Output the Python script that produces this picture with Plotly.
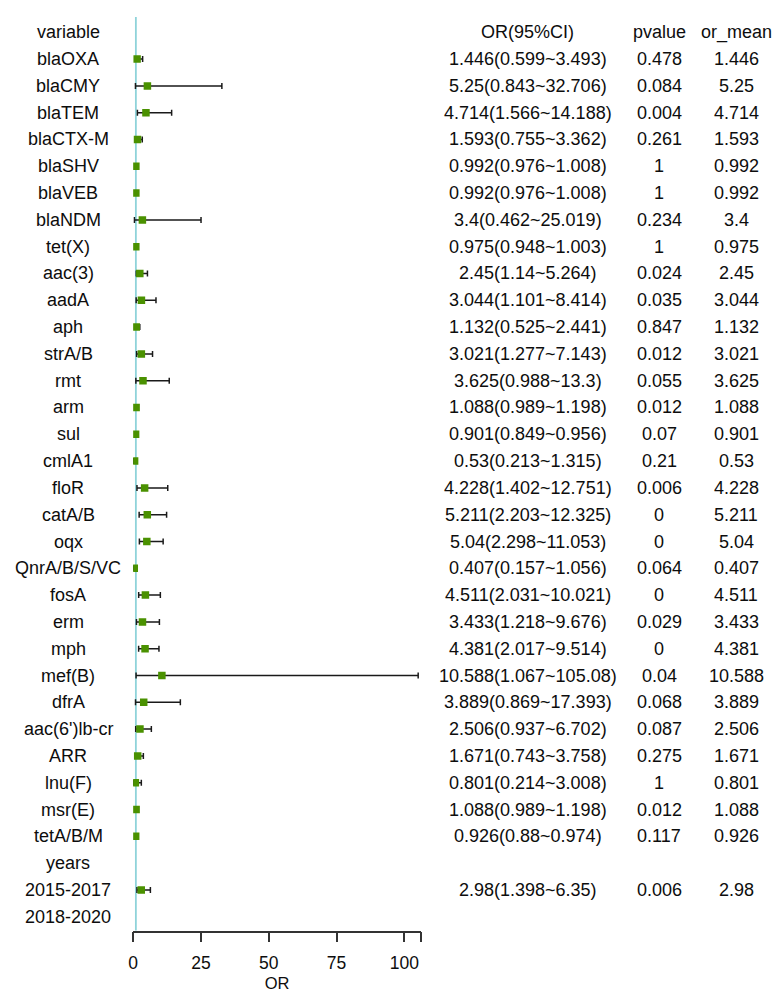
import plotly.graph_objects as go

# ---------------- data ----------------
row_labels = ["variable", "blaOXA", "blaCMY", "blaTEM", "blaCTX-M", "blaSHV", "blaVEB", "blaNDM",
              "tet(X)", "aac(3)", "aadA", "aph", "strA/B", "rmt", "arm", "sul", "cmlA1", "floR",
              "catA/B", "oqx", "QnrA/B/S/VC", "fosA", "erm", "mph", "mef(B)", "dfrA",
              "aac(6')lb-cr", "ARR", "lnu(F)", "msr(E)", "tetA/B/M", "years", "2015-2017", "2018-2020"]

or_mean = [None, 1.446, 5.25, 4.714, 1.593, 0.992, 0.992, 3.4, 0.975, 2.45, 3.044, 1.132, 3.021,
           3.625, 1.088, 0.901, 0.53, 4.228, 5.211, 5.04, 0.407, 4.511, 3.433, 4.381, 10.588,
           3.889, 2.506, 1.671, 0.801, 1.088, 0.926, None, 2.98, None]
ci_low = [None, 0.599, 0.843, 1.566, 0.755, 0.976, 0.976, 0.462, 0.948, 1.14, 1.101, 0.525, 1.277,
          0.988, 0.989, 0.849, 0.213, 1.402, 2.203, 2.298, 0.157, 2.031, 1.218, 2.017, 1.067,
          0.869, 0.937, 0.743, 0.214, 0.989, 0.88, None, 1.398, None]
ci_high = [None, 3.493, 32.706, 14.188, 3.362, 1.008, 1.008, 25.019, 1.003, 5.264, 8.414, 2.441,
           7.143, 13.3, 1.198, 0.956, 1.315, 12.751, 12.325, 11.053, 1.056, 10.021, 9.676, 9.514,
           105.08, 17.393, 6.702, 3.758, 3.008, 1.198, 0.974, None, 6.35, None]
pvalue = [None, 0.478, 0.084, 0.004, 0.261, 1, 1, 0.234, 1, 0.024, 0.035, 0.847, 0.012, 0.055,
          0.012, 0.07, 0.21, 0.006, 0, 0, 0.064, 0, 0.029, 0, 0.04, 0.068, 0.087, 0.275, 1,
          0.012, 0.117, None, 0.006, None]

col_headers = ["OR(95%CI)", "pvalue", "or_mean"]
x_ticks = [0, 25, 50, 75, 100]
ref_line = 1
axis_max = 106.1

# ---------------- layout constants ----------------
W, H = 772, 992
x0_px, px_per_unit = 129.0, 2.73
row0_px, row_step = 32.3, 26.8
plot_top_px, plot_bot_px = 17.0, 930.5
col_x_px = [63.5, 526.0, 658.5, 736.0]

FONT = "Liberation Sans, Arial, sans-serif"
GREEN = "#4a9100"
TEAL = "#8fd3da"

fmt = lambda v: f"{v:g}"

n_rows = len(row_labels)
y_top = -(row0_px - plot_top_px) / row_step
y_bot = (n_rows - 1) + (plot_bot_px - (row0_px + (n_rows - 1) * row_step)) / row_step

xs, ys, ep, em = [], [], [], []
for i, (o, lo, hi) in enumerate(zip(or_mean, ci_low, ci_high)):
    if o is None:
        continue
    xs.append(o)
    ys.append(i)
    ep.append(hi - o)
    em.append(o - lo)

fig = go.Figure()
fig.add_trace(go.Scatter(
    x=xs, y=ys, mode="markers",
    marker=dict(symbol="square", size=7.5, color=GREEN, line=dict(width=0)),
    error_x=dict(type="data", symmetric=False, array=ep, arrayminus=em,
                 color="#1a1a1a", thickness=1.5, width=3),
    hoverinfo="skip", showlegend=False,
))

fig.add_shape(type="line", xref="x", yref="y domain", x0=ref_line, x1=ref_line, y0=0, y1=1,
              line=dict(color=TEAL, width=1.8), layer="below")

annotations = []
def add_text(xpx, y, text):
    annotations.append(dict(x=xpx / W, xref="paper", y=y, yref="y", text=text, showarrow=False,
                            xanchor="center", yanchor="middle",
                            font=dict(family=FONT, size=18, color="#0d0d0d")))

for i, lab in enumerate(row_labels):
    add_text(col_x_px[0], i, lab)
    if i == 0:
        for k, h in enumerate(col_headers):
            add_text(col_x_px[k + 1], i, h)
    elif or_mean[i] is not None:
        add_text(col_x_px[1], i, f"{fmt(or_mean[i])}({fmt(ci_low[i])}~{fmt(ci_high[i])})")
        add_text(col_x_px[2], i, fmt(pvalue[i]))
        add_text(col_x_px[3], i, fmt(or_mean[i]))

x_end_px = x0_px + axis_max * px_per_unit
fig.update_layout(
    width=W, height=H, margin=dict(l=0, r=0, t=0, b=0),
    paper_bgcolor="white", plot_bgcolor="white",
    annotations=annotations,
    xaxis=dict(domain=[x0_px / W, x_end_px / W], range=[0, axis_max],
               tickvals=x_ticks + [axis_max], ticktext=[str(t) for t in x_ticks] + [""],
               showline=True, linecolor="#333333", linewidth=1.5,
               ticks="outside", ticklen=10, tickwidth=1.5, tickcolor="#333333",
               ticklabelstandoff=6,
               showgrid=False, zeroline=False,
               tickfont=dict(family=FONT, size=17.5, color="#0d0d0d"),
               title=dict(text="OR", font=dict(family=FONT, size=16.5, color="#0d0d0d"), standoff=6)),
    yaxis=dict(domain=[(H - plot_bot_px) / H, (H - plot_top_px) / H], range=[y_bot, y_top],
               visible=False),
)

fig.write_html("out.html")
